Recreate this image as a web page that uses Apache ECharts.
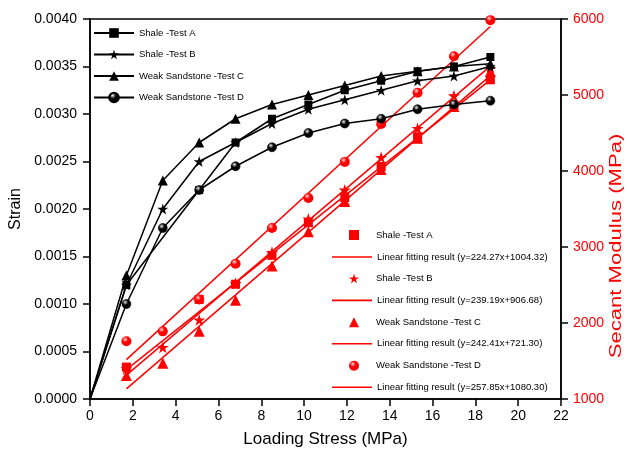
<!DOCTYPE html>
<html>
<head>
<meta charset="utf-8">
<script src="https://cdn.jsdelivr.net/npm/echarts@6/dist/echarts.min.js"></script>
<style>
  html, body { margin: 0; padding: 0; background: #fff; }
  #main { width: 629px; height: 459px; }
</style>
</head>
<body>
<div id="main"></div>
<script>
// loading stress (MPa)
var stress = [0, 1.7, 3.4, 5.1, 6.8, 8.5, 10.2, 11.9, 13.6, 15.3, 17.0, 18.7]
// strain, null = no reading for that test
var strainA = [0, 0.0012, null, 0.0022, 0.0027, 0.00295, 0.0031, 0.00325, 0.00335, 0.00345, 0.0035, 0.0036]
var strainB = [0, 0.0012, 0.0020, 0.0025, 0.0027, 0.0029, 0.00305, 0.00315, 0.00325, 0.00335, 0.0034, 0.0035]
var strainC = [0, 0.0013, 0.0023, 0.0027, 0.00295, 0.0031, 0.0032, 0.0033, 0.0034, 0.00345, 0.0035, 0.00353]
var strainD = [0, 0.0010, 0.0018, 0.0022, 0.00245, 0.00265, 0.0028, 0.0029, 0.00295, 0.00305, 0.0031, 0.00314]
// secant modulus (MPa)
var modA = [null, 1420, null, 2310, 2510, 2890, 3320, 3650, 4060, 4450, 4870, 5200]
var modB = [null, 1400, 1680, 2040, 2520, 2930, 3370, 3750, 4180, 4560, 4990, 5350]
var modC = [null, 1310, 1470, 1890, 2300, 2750, 3200, 3600, 4020, 4430, 4850, 5310]
var modD = [null, 1760, 1890, 2310, 2780, 3250, 3645, 4120, 4620, 5030, 5510, 5985]
// linear fits from the legend
var fitSlope = [224.27, 239.19, 242.41, 257.85]
var fitIntercept = [1004.32, 906.68, 721.30, 1080.30]
var fitRange = [1.7, 18.7]
var testNames = ['Shale -Test A', 'Shale -Test B', 'Weak Sandstone -Test C', 'Weak Sandstone -Test D']
var xTicks = { min: 0, max: 22, interval: 2 }

var FONT = '"Liberation Sans", Arial, sans-serif'
var STAR = 'path://M50,0 L61.2,34.5 L97.6,34.5 L68.2,55.9 L79.4,90.5 L50,69.1 L20.6,90.5 L31.8,55.9 L2.4,34.5 L38.8,34.5 Z'
var DASH = 'path://M0,0 L100,0 L100,4 L0,4 Z'

var symbols = ['rect', STAR, 'triangle', 'circle']
var symbolSizes = [8, 11, 10, 9]
var strains = [strainA, strainB, strainC, strainD]
var mods = [modA, modB, modC, modD]

function ball(base, light) {
  return new echarts.graphic.RadialGradient(0.38, 0.32, 0.65, [
    { offset: 0, color: light },
    { offset: 0.45, color: base },
    { offset: 1, color: base }
  ])
}

function pairs(arr) {
  var out = []
  stress.forEach(function (x, i) {
    if (arr[i] != null) out.push([x, arr[i]])
  })
  return out
}

var series = []
// black strain curves
strains.forEach(function (arr, k) {
  var data = pairs(arr).map(function (p) {
    return p[0] === 0 ? { value: p, symbol: 'none' } : p
  })
  series.push({
    name: testNames[k],
    type: 'line',
    data: data,
    symbol: symbols[k],
    symbolSize: symbolSizes[k],
    showAllSymbol: true,
    lineStyle: { color: '#000', width: 1.5 },
    itemStyle: { color: k === 3 ? ball('#000', '#e8e8e8') : '#000', borderColor: '#000', borderWidth: k === 3 ? 0.6 : 0 },
    z: 3
  })
})
// red secant modulus points + fitted lines
var markLegend = []
var fitLegend = []
mods.forEach(function (arr, k) {
  var nm = testNames[k] + ' '
  var fitName = 'Linear fitting result (y=' + fitSlope[k].toFixed(2) + 'x+' + fitIntercept[k].toFixed(2) + ')'
  markLegend.push({ name: nm, icon: symbols[k] })
  fitLegend.push({ name: fitName, icon: DASH })
  series.push({
    name: nm,
    type: 'scatter',
    yAxisIndex: 1,
    data: pairs(arr),
    symbol: symbols[k],
    symbolSize: symbolSizes[k] + 1,
    itemStyle: { color: k === 3 ? ball('#ff0000', '#ffd8d8') : '#ff0000', opacity: 1 },
    z: 2
  })
  series.push({
    name: fitName,
    type: 'line',
    yAxisIndex: 1,
    symbol: 'none',
    data: fitRange.map(function (x) { return [x, fitSlope[k] * x + fitIntercept[k]] }),
    lineStyle: { color: '#ff0000', width: 1.5 },
    itemStyle: { color: '#ff0000' },
    z: 2
  })
})

var legendText = { fontSize: 9.5, color: '#000', fontFamily: FONT }

var myChart = echarts.init(document.getElementById('main'))
var option = {
  animation: false,
  backgroundColor: '#fff',
  textStyle: { fontFamily: FONT },
  grid: { left: 90, right: 68, top: 19, bottom: 60, show: true, borderColor: '#000', borderWidth: 1.5, outerBoundsMode: 'none' },
  legend: [{
    orient: 'vertical', left: 93, top: 27, padding: 0,
    itemWidth: 40, itemHeight: 12, itemGap: 9.5,
    data: testNames,
    textStyle: Object.assign({ lineHeight: 12 }, legendText)
  }, {
    orient: 'vertical', left: 349, top: 230, padding: 0,
    itemWidth: 10, itemHeight: 10, itemGap: 33.6, symbolKeepAspect: true,
    data: markLegend,
    textStyle: Object.assign({ lineHeight: 10, padding: [0, 0, 0, 12] }, legendText)
  }, {
    orient: 'vertical', left: 332, top: 252, padding: 0,
    itemWidth: 40, itemHeight: 10, itemGap: 33.4, symbolKeepAspect: true,
    data: fitLegend,
    textStyle: Object.assign({ lineHeight: 10 }, legendText)
  }],
  xAxis: {
    type: 'value', min: xTicks.min, max: xTicks.max, interval: xTicks.interval,
    name: 'Loading Stress (MPa)', nameLocation: 'middle', nameGap: 32,
    nameTextStyle: { fontSize: 17, color: '#000', fontFamily: FONT },
    axisLine: { show: true, lineStyle: { color: '#000', width: 1.5 } },
    axisTick: { show: true, length: 7, lineStyle: { color: '#000', width: 1.5 } },
    axisLabel: { fontSize: 14, color: '#000', margin: 10, fontFamily: FONT },
    splitLine: { show: false }
  },
  yAxis: [{
    type: 'value', min: 0, max: 0.004, interval: 0.0005,
    name: 'Strain', nameLocation: 'middle', nameGap: 63, nameRotate: 90,
    nameTextStyle: { fontSize: 16, color: '#000', fontFamily: FONT, padding: [0, 0, 0, 0] },
    axisLine: { show: true, lineStyle: { color: '#000', width: 1.5 } },
    axisTick: { show: true, length: 7, lineStyle: { color: '#000', width: 1.5 } },
    axisLabel: { fontSize: 14, color: '#000', margin: 13, fontFamily: FONT, formatter: function (v) { return v.toFixed(4) } },
    splitLine: { show: false }
  }, {
    type: 'value', position: 'right', min: 1000, max: 6000, interval: 1000,
    axisLine: { show: true, lineStyle: { color: '#000', width: 1.5 } },
    axisTick: { show: true, length: 7, lineStyle: { color: '#000', width: 1.5 } },
    axisLabel: { fontSize: 14, color: '#ff0000', margin: 12, fontFamily: FONT, formatter: function (v) { return String(v) } },
    splitLine: { show: false }
  }],
  graphic: [{
    type: 'text', x: 617, y: 246, rotation: Math.PI / 2, scaleX: 1.38,
    style: { text: 'Secant Modulus (MPa)', fill: '#ff0000', fontSize: 16, fontFamily: FONT, align: 'center', verticalAlign: 'middle' }
  }],
  series: series
}
myChart.setOption(option)
window.addEventListener('resize', function () {
  myChart.resize()
})
</script>
</body>
</html>
